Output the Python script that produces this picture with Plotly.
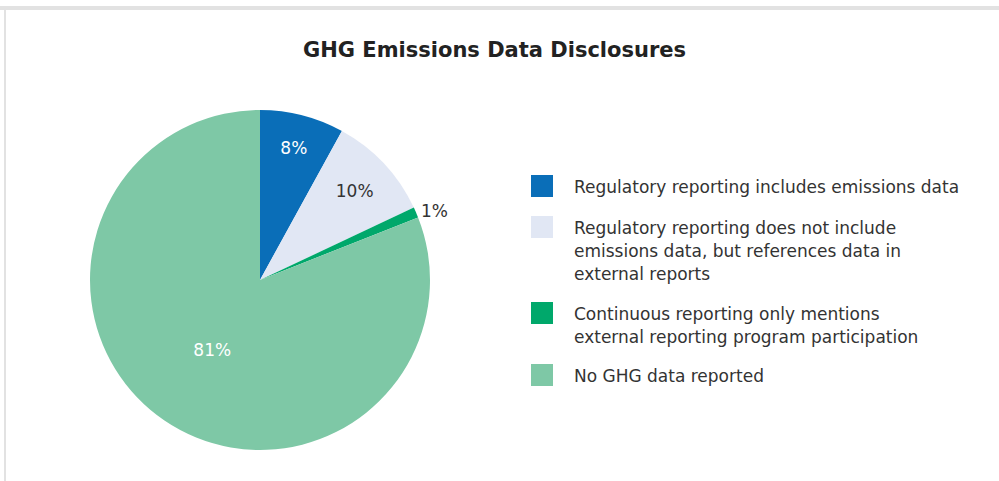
import plotly.graph_objects as go

title = "GHG Emissions Data Disclosures"
categories = [
    "Regulatory reporting includes emissions data",
    "Regulatory reporting does not include<br>emissions data, but references data in<br>external reports",
    "Continuous reporting only mentions<br>external reporting program participation",
    "No GHG data reported",
]
values = [8, 10, 1, 81]
colors = ["#0A6EB8", "#E1E7F4", "#00A86B", "#7EC8A6"]
text_colors = ["#FFFFFF", "#333333", "#333333", "#FFFFFF"]
text_positions = ["inside", "inside", "outside", "inside"]

W, H = 999, 481
FONT = "DejaVu Sans, sans-serif"

fig = go.Figure()
fig.add_trace(go.Pie(
    labels=[c.replace("<br>", " ") for c in categories],
    values=values,
    sort=False,
    direction="clockwise",
    rotation=0,
    marker=dict(colors=colors, line=dict(width=0)),
    texttemplate="%{percent:.0%}",
    textposition=text_positions,
    insidetextorientation="horizontal",
    textfont=dict(family=FONT, size=17, color=text_colors),
    outsidetextfont=dict(family=FONT, size=17, color="#333333"),
    domain=dict(x=[90 / W, 430 / W], y=[31 / H, 371 / H]),
    showlegend=False,
    hoverinfo="label+percent",
))

shapes = [
    dict(type="rect", xref="paper", yref="paper", x0=0, x1=1,
         y0=1 - 10 / H, y1=1 - 6 / H, fillcolor="#E2E2E2", line=dict(width=0)),
    dict(type="rect", xref="paper", yref="paper", x0=4 / W, x1=6 / W,
         y0=0, y1=1 - 9 / H, fillcolor="#E2E2E2", line=dict(width=0)),
]
annotations = [
    dict(text="<b>" + title + "</b>", x=494 / W, y=1 - 50 / H, xref="paper", yref="paper",
         showarrow=False, xanchor="center", yanchor="middle",
         font=dict(family=FONT, size=21, color="#222222")),
]

square_tops = [175, 216, 302, 364]
line_h = 23
for cat, col, top in zip(categories, colors, square_tops):
    shapes.append(dict(type="rect", xref="paper", yref="paper",
                       x0=531 / W, x1=553 / W, y0=1 - (top + 22) / H, y1=1 - top / H,
                       fillcolor=col, line=dict(width=0)))
    for i, line in enumerate(cat.split("<br>")):
        cy = top + 12 + i * line_h
        annotations.append(dict(
            text=line, x=572 / W, y=1 - cy / H,
            xref="paper", yref="paper", showarrow=False,
            xanchor="left", yanchor="middle", align="left",
            font=dict(family=FONT, size=17, color="#333333"),
        ))

fig.update_layout(
    width=W, height=H,
    margin=dict(l=0, r=0, t=0, b=0),
    paper_bgcolor="white",
    plot_bgcolor="white",
    shapes=shapes,
    annotations=annotations,
)

fig.write_html("out.html", config={"displayModeBar": False},
               post_script="document.body.style.margin='0px';")
